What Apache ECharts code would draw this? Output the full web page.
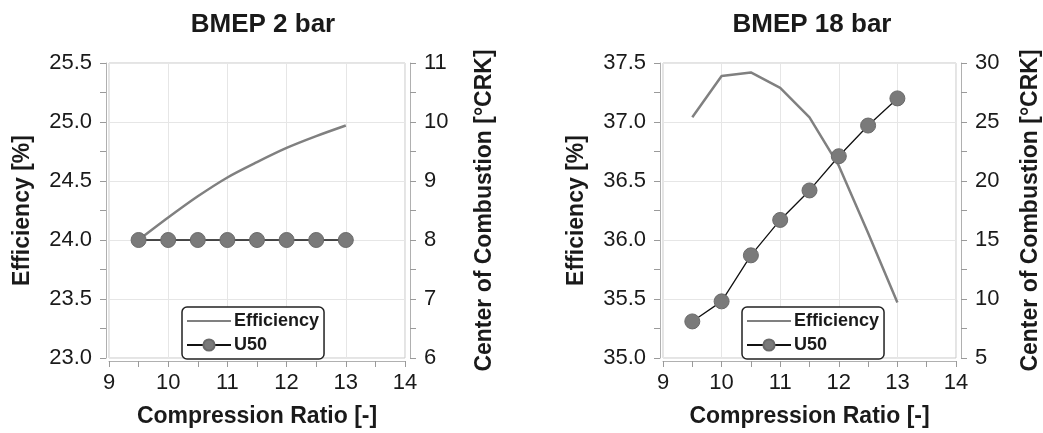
<!DOCTYPE html>
<html><head><meta charset="utf-8">
<script src="https://cdn.jsdelivr.net/npm/echarts@6/dist/echarts.min.js"></script>
<style>html,body{margin:0;padding:0;background:#fff}#c{width:1043px;height:433px}</style>
</head><body><div id="c"></div>
<script>
const titles = ['BMEP 2 bar', 'BMEP 18 bar'];
const compressionRatio = [9.5, 10, 10.5, 11, 11.5, 12, 12.5, 13];
const eff2 = [24.0, 24.19, 24.37, 24.53, 24.66, 24.78, 24.88, 24.97];
const u50_2 = [8, 8, 8, 8, 8, 8, 8, 8];
const eff18 = [37.04, 37.39, 37.42, 37.29, 37.04, 36.63, 36.06, 35.47];
const u50_18 = [8.1, 9.8, 13.7, 16.7, 19.2, 22.1, 24.7, 27.0];
const xName = 'Compression Ratio [-]';
const yLeftName = 'Efficiency [%]';
const yRightName = 'Center of Combustion [°CRK]';
const effRanges = [[23, 25.5, 0.5], [35, 37.5, 0.5]];
const u50Ranges = [[6, 11, 1], [5, 30, 5]];

const FONT = 'Liberation Sans, Arial, sans-serif';
const TXT = '#1a1a1a';
const grids = [
  {left: 109, right: 638, top: 63, bottom: 74},
  {left: 663, right: 85, top: 63, bottom: 74}
];
const rightNameGap = [63, 58];
const effSeries = [eff2, eff18];
const u50Series = [u50_2, u50_18];
const pair = (xs, ys) => xs.map((x, i) => [x, ys[i]]);
const tick = {show: true, length: 6, lineStyle: {color: '#9a9a9a'}};
const minor = {show: true, splitNumber: 2, length: 6, lineStyle: {color: '#9a9a9a'}};
const axisLine = {show: true, lineStyle: {color: '#b0b0b0', width: 1}};
const nameStyle = {fontFamily: FONT, fontWeight: 'bold', fontSize: 23, color: TXT};

const option = {
  animation: false,
  backgroundColor: '#fff',
  title: titles.map((t, i) => ({
    text: t, left: i === 0 ? 258 : 807, top: 7, textAlign: 'center',
    textStyle: {fontFamily: FONT, fontWeight: 'bold', fontSize: 26, color: TXT}
  })),
  grid: grids.map(g => Object.assign({show: true, borderColor: '#c8c8c8', borderWidth: 1}, g)),
  legend: [0, 1].map(i => ({
    data: [{name: 'Efficiency', itemStyle: {opacity: 0}}, 'U50'],
    orient: 'vertical',
    left: i === 0 ? 182 : 742, top: 307,
    itemWidth: 44, itemHeight: 14, itemGap: 6,
    padding: [5, 5, 5, 4],
    borderColor: '#222', borderWidth: 1.5, borderRadius: 5,
    backgroundColor: '#fff',
    selectedMode: false,
    textStyle: {fontFamily: FONT, fontWeight: 'bold', fontSize: 18, color: TXT, padding: [0, 0, 0, -2]}
  })),
  xAxis: [0, 1].map(i => ({
    type: 'value', gridIndex: i, min: 9, max: 14, interval: 1,
    offset: 3,
    name: xName, nameLocation: 'middle', nameGap: 44,
    nameTextStyle: nameStyle,
    axisLine: axisLine, axisTick: tick, minorTick: minor,
    axisLabel: {fontFamily: FONT, fontSize: 22, color: TXT, margin: 11},
    splitLine: {show: true, lineStyle: {color: '#e6e6e6', width: 1}}
  })),
  yAxis: [0, 1].flatMap(i => [
    {
      type: 'value', gridIndex: i, position: 'left',
      min: effRanges[i][0], max: effRanges[i][1], interval: effRanges[i][2],
      offset: 3,
      name: yLeftName, nameLocation: 'middle', nameGap: 72, nameRotate: 90,
      nameTextStyle: nameStyle,
      axisLine: axisLine, axisTick: tick, minorTick: minor,
      axisLabel: {fontFamily: FONT, fontSize: 22, color: TXT, margin: 14, formatter: v => v.toFixed(1)},
      splitLine: {show: true, lineStyle: {color: '#e6e6e6', width: 1}}
    },
    {
      type: 'value', gridIndex: i, position: 'right',
      min: u50Ranges[i][0], max: u50Ranges[i][1], interval: u50Ranges[i][2],
      offset: 5,
      name: yRightName, nameLocation: 'middle', nameGap: rightNameGap[i], nameRotate: 90,
      nameTextStyle: nameStyle,
      axisLine: axisLine, axisTick: tick, minorTick: minor,
      axisLabel: {fontFamily: FONT, fontSize: 22, color: TXT, margin: 14},
      splitLine: {show: false}
    }
  ]),
  series: [0, 1].flatMap(i => [
    {
      name: 'Efficiency', type: 'line', xAxisIndex: i, yAxisIndex: i * 2,
      data: pair(compressionRatio, effSeries[i]),
      smooth: i === 0 ? 0.3 : false,
      symbol: 'none', z: 2,
      lineStyle: {color: '#808080', width: 2.5}, itemStyle: {color: '#808080'}
    },
    {
      name: 'U50', type: 'line', xAxisIndex: i, yAxisIndex: i * 2 + 1,
      data: pair(compressionRatio, u50Series[i]),
      symbol: 'circle', symbolSize: 15, z: 3,
      lineStyle: {color: '#111', width: 1.3},
      itemStyle: {color: '#7a7a7a', borderColor: '#6a6a6a', borderWidth: 1}
    }
  ])
};
const chart = echarts.init(document.getElementById('c'), null, {renderer: 'canvas'});
chart.setOption(option);
</script></body></html>
